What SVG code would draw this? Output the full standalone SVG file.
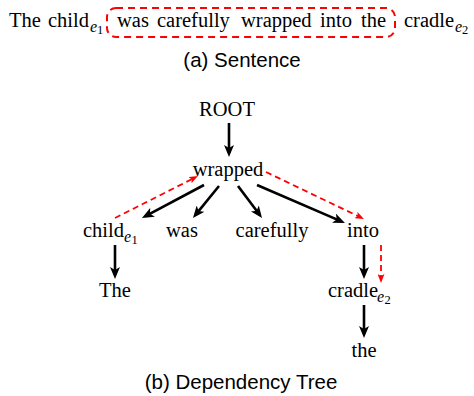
<svg xmlns="http://www.w3.org/2000/svg" width="474" height="396" viewBox="0 0 474 396">
<defs>
<marker id="ab" viewBox="0 0 12 10" refX="8" refY="5" markerWidth="12" markerHeight="10" markerUnits="userSpaceOnUse" orient="auto"><path d="M0,0 L12,5 L0,10 L3,5 z" fill="#000"/></marker>
<marker id="ar" viewBox="0 0 9 7" refX="6" refY="3.5" markerWidth="9" markerHeight="7" markerUnits="userSpaceOnUse" orient="auto"><path d="M0,0 L9,3.5 L0,7 L2,3.5 z" fill="#ff0000"/></marker>
<style>
.w{font-family:"Liberation Serif","Times New Roman",serif;font-size:20.5px;fill:#000}
.s{font-family:"Liberation Serif","Times New Roman",serif;font-style:italic;font-size:16px;fill:#000}
.n{font-family:"Liberation Serif","Times New Roman",serif;font-size:12.5px;fill:#000}
.cap{font-family:"Liberation Sans",Arial,sans-serif;font-size:20.5px;fill:#000}
.b{stroke:#000;stroke-width:2.6;fill:none;marker-end:url(#ab)}
.r{stroke:#ff0000;stroke-width:1.8;fill:none;stroke-dasharray:6,4;marker-end:url(#ar)}
</style>
</defs>
<rect width="474" height="396" fill="#fff"/>
<g id="sentence">
<text class="w" x="9" y="27">The</text>
<text class="w" x="48" y="27">child</text>
<text class="s" x="90" y="32">e</text><text class="n" x="97" y="34">1</text>
<rect x="107" y="8" width="288" height="29" rx="9" ry="9" fill="none" stroke="#ff0000" stroke-width="2" stroke-dasharray="7,5"/>
<text class="w" x="117" y="27">was</text>
<text class="w" x="157" y="27">carefully</text>
<text class="w" x="241" y="27">wrapped</text>
<text class="w" x="320" y="27">into</text>
<text class="w" x="361" y="27">the</text>
<text class="w" x="404" y="27">cradle</text>
<text class="s" x="455" y="32">e</text><text class="n" x="462" y="34">2</text>
<text class="cap" x="242" y="67" text-anchor="middle">(a) Sentence</text>
</g>
<g id="connectors">
<line class="b" x1="229" y1="123" x2="229" y2="153"/>
<line class="b" x1="204" y1="185" x2="145.5" y2="216.1"/>
<line class="b" x1="219" y1="186" x2="195.5" y2="214.9"/>
<line class="b" x1="238" y1="186" x2="259.6" y2="214.8"/>
<line class="b" x1="257" y1="185" x2="341.3" y2="221.4"/>
<line class="b" x1="115" y1="245" x2="115" y2="275"/>
<line class="b" x1="364" y1="245" x2="364" y2="275"/>
<line class="b" x1="364" y1="305" x2="364" y2="334"/>
<line class="r" x1="115" y1="218" x2="195.3" y2="177.4"/>
<line class="r" x1="266" y1="172" x2="361.3" y2="217.7"/>
<line class="r" x1="381" y1="245" x2="381" y2="280"/>
</g>
<g id="n-root"><text class="w" x="227" y="116" text-anchor="middle">ROOT</text></g>
<g id="n-wrapped"><text class="w" x="228" y="176" text-anchor="middle">wrapped</text></g>
<g id="n-child"><text class="w" x="83" y="237">child</text><text class="s" x="124" y="242">e</text><text class="n" x="131.5" y="244">1</text></g>
<g id="n-was"><text class="w" x="182" y="237" text-anchor="middle">was</text></g>
<g id="n-carefully"><text class="w" x="272" y="237" text-anchor="middle">carefully</text></g>
<g id="n-into"><text class="w" x="363" y="237" text-anchor="middle">into</text></g>
<g id="n-The"><text class="w" x="115" y="297" text-anchor="middle">The</text></g>
<g id="n-cradle"><text class="w" x="328" y="297">cradle</text><text class="s" x="377" y="302">e</text><text class="n" x="384.5" y="304">2</text></g>
<g id="n-the"><text class="w" x="364" y="357" text-anchor="middle">the</text></g>
<g id="caption-b"><text class="cap" x="241" y="389" text-anchor="middle">(b) Dependency Tree</text></g>
</svg>
